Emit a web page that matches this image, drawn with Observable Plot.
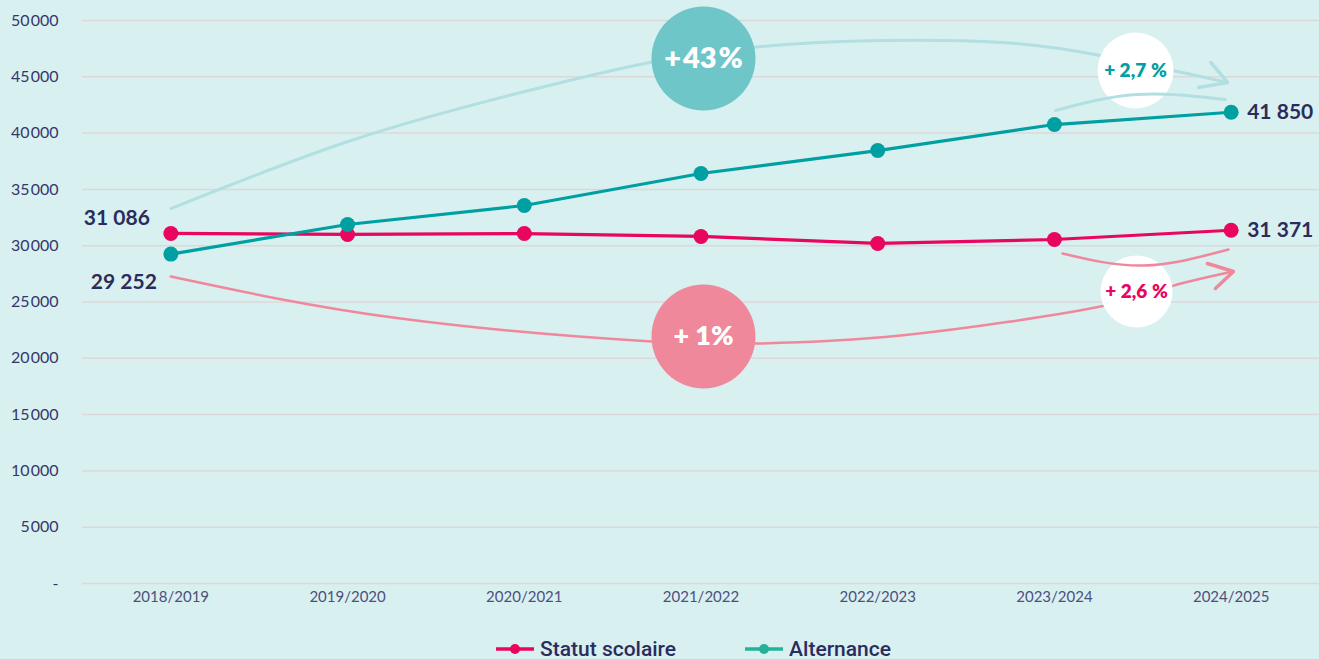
<!DOCTYPE html>
<html>
<head>
<meta charset="utf-8">
<script src="https://cdn.jsdelivr.net/npm/d3@7"></script>
<script src="https://cdn.jsdelivr.net/npm/@observablehq/plot@0.6"></script>
<style>
  html, body { margin: 0; padding: 0; background: #d9f0f0; }
  #chart { width: 1319px; height: 659px; position: relative; }
  .legend { display: flex; justify-content: flex-start; margin-top: 22px; padding-left: 496px;
            font-family: Roboto, sans-serif; font-weight: 500; font-size: 21px; color: #2b2c5e; }
  .item { display: flex; align-items: center; margin-right: 69px; }
  .item svg { margin-right: 6px; }
</style>
</head>
<body>
<div id="chart"></div>
<script>
// ---- data ----
const years = ["2018/2019", "2019/2020", "2020/2021", "2021/2022", "2022/2023", "2023/2024", "2024/2025"];
const scolaire = [31086, 31000, 31080, 30820, 30200, 30550, 31371];
const alternance = [29252, 31880, 33570, 36410, 38450, 40760, 41850];
const yTicks = [0, 5000, 10000, 15000, 20000, 25000, 30000, 35000, 40000, 45000, 50000];
const seriesNames = ["Statut scolaire", "Alternance"];

// annotation arcs (data units: x = year index, y = value)
const tealArcX = [0, 1.02, 1.98, 2.71, 3.34, 4.02, 4.70, 5.26, 5.98];
const tealArcY = [33300, 39340, 43600, 46270, 47690, 48220, 48050, 46890, 44500];
const tealHeadX = [5.885, 5.98, 5.815];
const tealHeadY = [46270, 44500, 44050];
const tealSmallX = [5.006, 5.465, 5.968];
const tealSmallY = [42000, 43430, 42980];
const pinkArcX = [0, 1.30, 2.72, 3.30, 4.13, 5.26, 5.64, 6.01];
const pinkArcY = [27260, 23530, 21490, 21310, 22020, 24600, 26290, 27710];
const pinkHeadX = [5.866, 6.013, 5.911];
const pinkHeadY = [28420, 27710, 26200];
const pinkSmallX = [5.046, 5.504, 5.985];
const pinkSmallY = [29310, 28240, 29660];
const bubbleLabels = ["+\u200a43\u200a%", "+ 1%", "+ 2,7\u202f%", "+ 2,6\u202f%"];
const bubbleX = [3.014, 3.014, 5.459, 5.465];
const bubbleY = [46620, 21940, 45560, 25930];
const bubbleR = [52, 52, 38, 36];

// ---- build ----
const C_PINK = "#e8065f", C_TEAL = "#00a0a2";
const fr = d3.formatLocale({decimal: ",", thousands: "\u202f", grouping: [3], currency: ["", ""]});
const fmt = fr.format(",d");
const frTick = d3.formatLocale({decimal: ",", thousands: "\u200a", grouping: [3], currency: ["", ""]});
const fmtTick = frTick.format(",d");
const rows = [];
years.forEach((y, i) => {
  rows.push({i, series: seriesNames[0], value: scolaire[i]});
  rows.push({i, series: seriesNames[1], value: alternance[i]});
});
const pts = (xs, ys) => xs.map((x, k) => ({x, y: ys[k]}));
const bubbles = bubbleLabels.map((t, k) => ({t, x: bubbleX[k], y: bubbleY[k], r: bubbleR[k],
  fill: ["#6fc6c9", "#f0889b", "#ffffff", "#ffffff"][k],
  color: ["#ffffff", "#ffffff", C_TEAL, C_PINK][k],
  size: [29, 27, 19, 19][k]}));
const colorOf = s => s === seriesNames[0] ? C_PINK : C_TEAL;
const n = years.length - 1;
const endLabels = [
  {x: 0, y: scolaire[0], t: fmt(scolaire[0]), anchor: "end", dx: -21, dy: -15},
  {x: 0, y: alternance[0], t: fmt(alternance[0]), anchor: "end", dx: -14, dy: 28},
  {x: n, y: alternance[n], t: fmt(alternance[n]), anchor: "start", dx: 16, dy: 0},
  {x: n, y: scolaire[n], t: fmt(scolaire[n]), anchor: "start", dx: 16, dy: 0}
];

const plot = Plot.plot({
  width: 1319, height: 615,
  marginLeft: 82, marginRight: 0, marginTop: 20, marginBottom: 32,
  style: {background: "transparent", fontFamily: "Lato, sans-serif", overflow: "visible"},
  x: {type: "linear", domain: [-0.5, years.length - 0.5], axis: null},
  y: {domain: [0, 50000], axis: null},
  r: {type: "identity"},
  marks: [
    Plot.ruleY(yTicks, {stroke: "#dcd8da", strokeWidth: 1.5}),
    Plot.axisY(yTicks, {tickSize: 0, tickPadding: 24, label: null, fontSize: 16, fill: "#35376a",
      tickFormat: d => d === 0 ? "-" : fmtTick(d)}),
    Plot.axisX(d3.range(years.length), {tickSize: 0, tickPadding: 8, label: null, fontSize: 15, fill: "#4d4f7d",
      tickFormat: i => years[i]}),
    Plot.line(pts(tealArcX, tealArcY), {x: "x", y: "y", curve: "natural", stroke: "#b2dfe1", strokeWidth: 3}),
    Plot.line(pts(tealHeadX, tealHeadY), {x: "x", y: "y", stroke: "#b2dfe1", strokeWidth: 3.5, strokeLinecap: "round", strokeLinejoin: "round"}),
    Plot.line(pts(pinkArcX, pinkArcY), {x: "x", y: "y", curve: "natural", stroke: "#f0889b", strokeWidth: 2.5}),
    Plot.line(pts(pinkHeadX, pinkHeadY), {x: "x", y: "y", stroke: "#f0889b", strokeWidth: 3.5, strokeLinecap: "round", strokeLinejoin: "round"}),
    Plot.dot(bubbles, {x: "x", y: "y", r: "r", fill: d => d.fill, stroke: null}),
    Plot.line(pts(tealSmallX, tealSmallY), {x: "x", y: "y", curve: "natural", stroke: "#b2dfe1", strokeWidth: 3}),
    Plot.line(pts(pinkSmallX, pinkSmallY), {x: "x", y: "y", curve: "natural", stroke: "#f0889b", strokeWidth: 2.5}),
    Plot.text(bubbles, {x: "x", y: "y", text: "t", fill: d => d.color, fontSize: d => d.size, fontWeight: 800}),
    Plot.line(rows, {x: "i", y: "value", z: "series", stroke: d => colorOf(d.series), strokeWidth: 3.2}),
    Plot.dot(rows, {x: "i", y: "value", r: 7.5, fill: d => colorOf(d.series), stroke: null}),
    ...endLabels.map(d => Plot.text([d], {x: "x", y: "y", text: "t", textAnchor: d.anchor, dx: d.dx, dy: d.dy,
      fontSize: 21, fontWeight: 700, fill: "#2b2c5e"}))
  ]
});
document.getElementById("chart").appendChild(plot);

const legend = document.createElement("div");
legend.className = "legend";
seriesNames.forEach((s, k) => {
  const it = document.createElement("div");
  it.className = "item";
  const c = k === 0 ? C_PINK : "#22b29a";
  it.innerHTML = `<svg width="38" height="12"><line x1="0" x2="38" y1="6" y2="6" stroke="${c}" stroke-width="3.5"/><circle cx="19" cy="6" r="5" fill="${c}"/></svg><span>${s}</span>`;
  legend.appendChild(it);
});
document.getElementById("chart").appendChild(legend);
</script>
</body>
</html>
